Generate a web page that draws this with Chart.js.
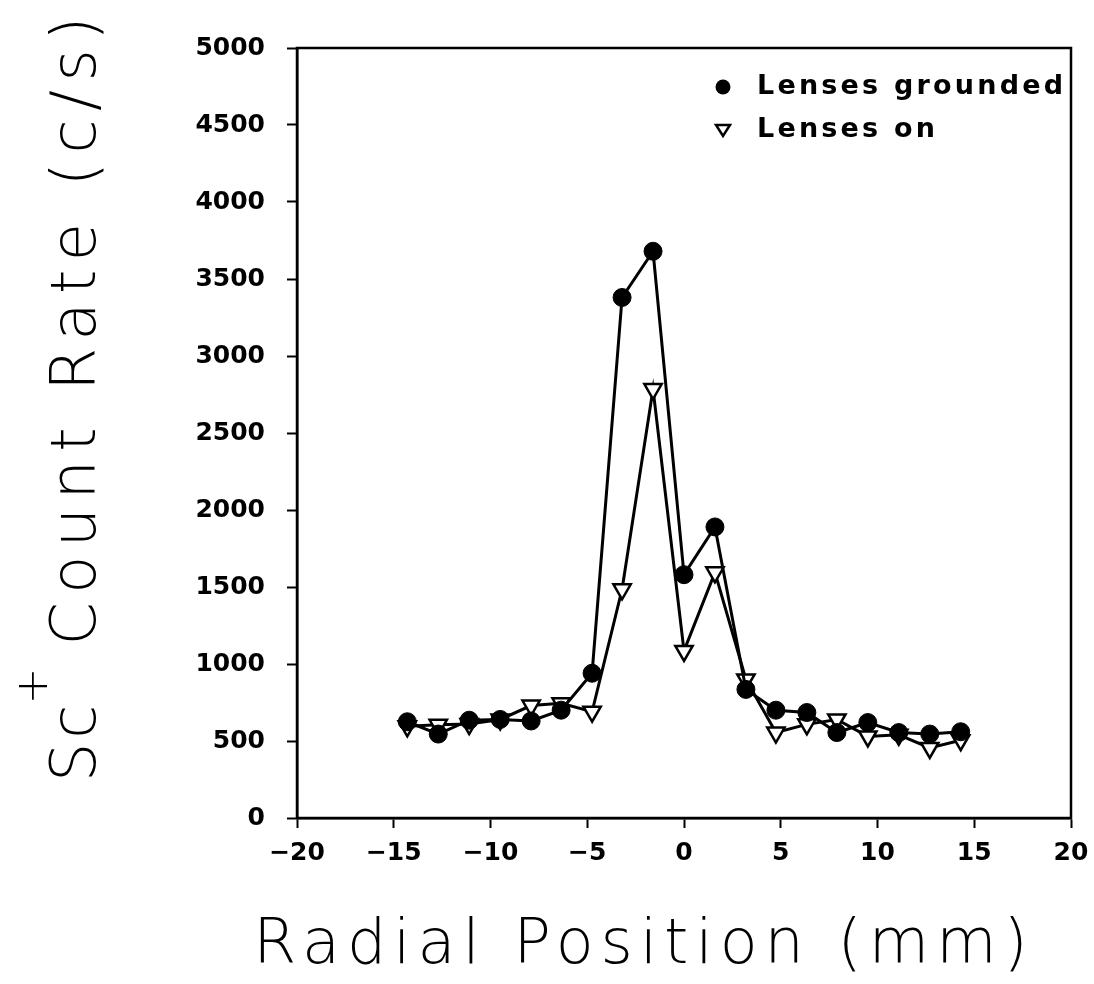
<!DOCTYPE html>
<html>
<head>
<meta charset="utf-8">
<title>Sc+ count rate vs radial position</title>
<script src="https://cdn.jsdelivr.net/npm/chart.js@4.4.1/dist/chart.umd.min.js"></script>
<style>
  html, body { margin: 0; padding: 0; background: #fff; }
  #wrap { width: 1094px; height: 984px; position: relative; }
</style>
</head>
<body>
<div id="wrap"><canvas id="chart"></canvas></div>
<script>
// Radial position of each measurement (mm)
const positions = [-14.3, -12.7, -11.1, -9.5, -7.9, -6.35, -4.75, -3.2, -1.6, 0, 1.6, 3.2, 4.75, 6.35, 7.9, 9.5, 11.1, 12.7, 14.3];
// Sc+ count rate (c/s)
const grounded = [625, 545, 635, 640, 630, 700, 940, 3380, 3680, 1580, 1890, 835, 700, 685, 555, 620, 555, 545, 560];
const lensesOn = [595, 605, 610, 640, 730, 745, 690, 1485, 2785, 1085, 1595, 900, 555, 608, 640, 530, 540, 455, 505];

const seriesLabels = ['Lenses grounded', 'Lenses on'];
const xTickValues = [-20, -15, -10, -5, 0, 5, 10, 15, 20];
const yTickValues = [0, 500, 1000, 1500, 2000, 2500, 3000, 3500, 4000, 4500, 5000];
const xTitle = 'Radial Position (mm)';
const yTitleParts = ['Sc', '+', ' Count Rate (c/s)'];

const tickFont = { family: '"DejaVu Sans"', size: 25, weight: 'bold' };
const titleFont = '200 62px "DejaVu Sans"';

function toPoints(ys) {
    return positions.map((x, i) => ({ x: x, y: ys[i] }));
}

// pas de marge auto pour les étiquettes qui débordent
function noOverflow(scale) {
    scale.paddingLeft = 0;
    scale.paddingRight = 0;
    scale.paddingTop = 0;
    scale.paddingBottom = 0;
}

// cadre, titres des axes et légende
const decorations = {
    id: 'decorations',
    afterDraw(chart) {
        const ctx = chart.ctx;
        const a = chart.chartArea;
        ctx.save();
        ctx.strokeStyle = '#000';
        ctx.lineWidth = 2.5;
        ctx.strokeRect(a.left, a.top, a.right - a.left, a.bottom - a.top);

        ctx.fillStyle = '#000';
        ctx.textBaseline = 'alphabetic';

        // x title
        ctx.font = titleFont;
        ctx.letterSpacing = '7px';
        ctx.textAlign = 'center';
        ctx.fillText(xTitle, 644, 963);

        // y title (rotated, with superscript +)
        ctx.save();
        ctx.translate(95, 782);
        ctx.rotate(-Math.PI / 2);
        ctx.textAlign = 'left';
        ctx.letterSpacing = '4px';
        ctx.font = titleFont;
        let px = 0;
        ctx.fillText(yTitleParts[0], px, 0);
        px += ctx.measureText(yTitleParts[0]).width;
        ctx.font = '200 44px "DejaVu Sans"';
        ctx.letterSpacing = '0px';
        ctx.fillText(yTitleParts[1], px - 4, -48);
        px += ctx.measureText(yTitleParts[1]).width - 10;
        ctx.font = titleFont;
        ctx.letterSpacing = '8.5px';
        ctx.fillText(yTitleParts[2], px, 0);
        ctx.restore();

        // legend
        ctx.font = 'bold 27px "DejaVu Sans"';
        ctx.letterSpacing = '3.2px';
        ctx.textAlign = 'left';
        ctx.textBaseline = 'middle';
        const rows = [87, 130];
        ctx.beginPath();
        ctx.arc(723, rows[0], 7.5, 0, Math.PI * 2);
        ctx.fill();
        ctx.fillText(seriesLabels[0], 757, rows[0]);

        ctx.beginPath();
        ctx.moveTo(716, rows[1] - 5);
        ctx.lineTo(730, rows[1] - 5);
        ctx.lineTo(723, rows[1] + 6);
        ctx.closePath();
        ctx.lineWidth = 2.5;
        ctx.stroke();
        ctx.fillText(seriesLabels[1], 757, rows[1]);
        ctx.restore();
    }
};

new Chart(document.getElementById('chart'), {
    type: 'line',
    data: {
        datasets: [{
            label: seriesLabels[0],
            data: toPoints(grounded),
            borderColor: '#000',
            borderWidth: 3,
            pointStyle: 'circle',
            pointRadius: 9,
            pointBackgroundColor: '#000',
            pointBorderColor: '#000',
            pointBorderWidth: 1,
            tension: 0
        }, {
            label: seriesLabels[1],
            data: toPoints(lensesOn),
            borderColor: '#000',
            borderWidth: 3,
            pointStyle: 'triangle',
            pointRotation: 180,
            pointRadius: 10,
            pointBackgroundColor: '#fff',
            pointBorderColor: '#000',
            pointBorderWidth: 2.5,
            tension: 0
        }]
    },
    options: {
        responsive: true,
        maintainAspectRatio: false,
        animation: false,
        layout: { padding: { top: 48, right: 23, left: 0, bottom: 0 } },
        plugins: {
            legend: { display: false },
            tooltip: { enabled: false }
        },
        scales: {
            x: {
                type: 'linear',
                min: -20,
                max: 20,
                afterBuildTicks: scale => { scale.ticks = xTickValues.map(v => ({ value: v })); },
                afterFit: scale => { scale.height = 984 - 818; noOverflow(scale); },
                grid: { drawOnChartArea: false, drawTicks: true, tickLength: 10, tickWidth: 2, tickColor: '#000' },
                border: { display: true, color: '#000', width: 2.5 },
                ticks: {
                    color: '#000',
                    font: tickFont,
                    padding: 10,
                    maxRotation: 0,
                    autoSkip: false,
                    callback: v => String(v).replace('-', '\u2212')
                }
            },
            y: {
                min: 0,
                max: 5000,
                afterBuildTicks: scale => { scale.ticks = yTickValues.map(v => ({ value: v })); },
                afterFit: scale => { scale.width = 297; noOverflow(scale); },
                grid: { drawOnChartArea: false, drawTicks: true, tickLength: 10, tickWidth: 2, tickColor: '#000' },
                border: { display: true, color: '#000', width: 2.5 },
                ticks: {
                    color: '#000',
                    font: tickFont,
                    padding: 22,
                    autoSkip: false,
                    callback: v => String(v)
                }
            }
        }
    },
    plugins: [decorations]
});
</script>
</body>
</html>
